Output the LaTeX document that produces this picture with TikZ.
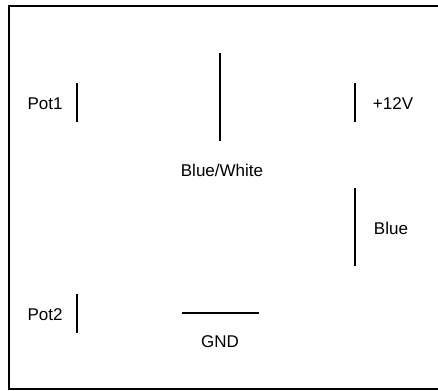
\documentclass[tikz,border=0pt]{standalone}
\usepackage{fontspec}
\setmainfont{Liberation Sans}
\begin{document}
\begin{tikzpicture}[x=1pt,y=-1pt,
	lbl/.style={font=\fontsize{17}{20}\selectfont, inner sep=0pt},
	wire/.style={line width=1.6pt}]
	\useasboundingbox (0,0) rectangle (438,390);
	\draw[line width=1.6pt] (9,6) rectangle (450,389);
	% labels
	\node (Pot1) at (45,104) [lbl] {Pot1};
	\node (Pot2) at (45,315) [lbl] {Pot2};
	\node (BlueWhite) at (222,170) [lbl] {Blue/White};
	\node (Plus12V) at (393,104) [lbl] {+12V};
	\node (Blue) at (391,228) [lbl] {Blue};
	\node (GND) at (220,342) [lbl] {GND};
	% wire ends
	\coordinate (Pot1A) at (77,83);
	\coordinate (Pot1B) at (77,122);
	\coordinate (BWA) at (220,53);
	\coordinate (BWB) at (220,141);
	\coordinate (VccA) at (355,83);
	\coordinate (VccB) at (355,122);
	\coordinate (BlueA) at (355,188);
	\coordinate (BlueB) at (355,266);
	\coordinate (Pot2A) at (77,294);
	\coordinate (Pot2B) at (77,333);
	\coordinate (GNDA) at (182,313);
	\coordinate (GNDB) at (259,313);
	\draw[wire] (Pot1A) -- (Pot1B);
	\draw[wire] (BWA) -- (BWB);
	\draw[wire] (VccA) -- (VccB);
	\draw[wire] (BlueA) -- (BlueB);
	\draw[wire] (Pot2A) -- (Pot2B);
	\draw[wire] (GNDA) -- (GNDB);
\end{tikzpicture}
\end{document}
